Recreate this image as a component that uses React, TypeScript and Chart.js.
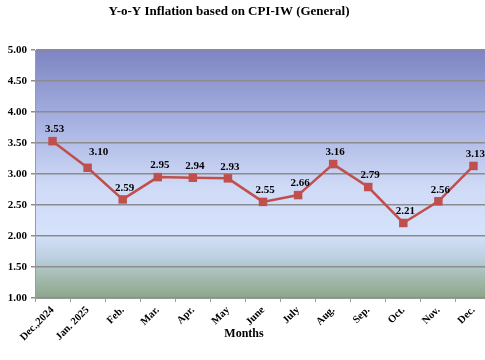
import React, { useEffect, useRef } from "react";
import { Chart, registerables } from "chart.js";

Chart.register(...registerables);

const months = ["Dec.,2024", "Jan. 2025", "Feb.", "Mar.", "Apr.", "May", "June", "July", "Aug.", "Sep.", "Oct.", "Nov.", "Dec."];
const inflation = [3.53, 3.10, 2.59, 2.95, 2.94, 2.93, 2.55, 2.66, 3.16, 2.79, 2.21, 2.56, 3.13];
const yMin = 1;
const yMax = 5;
const yStep = 0.5;
const titleText = "Y-o-Y Inflation based on CPI-IW (General)";
const xTitle = "Months";

const FONT = "'Liberation Serif', 'Times New Roman', serif";

const bgPlugin = {
  id: "bgPlugin",
  beforeDraw(chart: any) {
    const { ctx, chartArea } = chart;
    if (!chartArea) return;
    const { left, top, right, bottom } = chartArea;
    const g = ctx.createLinearGradient(0, top, 0, bottom);
    g.addColorStop(0, "#7e85c2");
    g.addColorStop(0.3, "#a9b3e2");
    g.addColorStop(0.55, "#cfdaf7");
    g.addColorStop(0.74, "#d5e2fb");
    g.addColorStop(0.84, "#bccfe0");
    g.addColorStop(0.9, "#a9bfb8");
    g.addColorStop(1, "#8ca68a");
    ctx.save();
    ctx.fillStyle = g;
    ctx.fillRect(left, top, right - left, bottom - top);
    ctx.restore();
  },
  afterDatasetsDraw(chart: any) {
    const { ctx } = chart;
    const meta = chart.getDatasetMeta(0);
    ctx.save();
    ctx.font = `bold 11px ${FONT}`;
    ctx.fillStyle = "#000";
    ctx.textAlign = "center";
    ctx.textBaseline = "bottom";
    meta.data.forEach((pt: any, i: number) => {
      // the Jan. 2025 label sits up and to the right of its marker in the original
      const nudgeX = i === 1 ? 11 : 2;
      const nudgeY = i === 1 ? 10 : 6;
      ctx.fillText(inflation[i].toFixed(2), pt.x + nudgeX, pt.y - nudgeY);
    });
    ctx.restore();
  },
  afterDraw(chart: any) {
    const { ctx } = chart;
    ctx.save();
    ctx.fillStyle = "#000";
    ctx.textAlign = "center";
    ctx.textBaseline = "middle";
    ctx.font = `bold 13px ${FONT}`;
    ctx.fillText(titleText, 229, 12);
    ctx.font = `bold 12px ${FONT}`;
    ctx.fillText(xTitle, 244, 334);
    ctx.restore();
  },
};

export default function App() {
  const ref = useRef<HTMLCanvasElement | null>(null);
  useEffect(() => {
    if (!ref.current) return;
    const chart = new Chart(ref.current, {
      type: "line",
      data: {
        labels: months,
        datasets: [
          {
            data: inflation,
            borderColor: "#c0504d",
            backgroundColor: "#c0504d",
            borderWidth: 2.5,
            pointStyle: "rect",
            pointRadius: 6,
            pointHoverRadius: 6,
            pointBorderWidth: 0,
            tension: 0,
          },
        ],
      },
      options: {
        animation: false,
        responsive: false,
        maintainAspectRatio: false,
        layout: { padding: { top: 50, left: 0, right: 0, bottom: 0 } },
        plugins: {
          legend: { display: false },
          title: { display: false },
          tooltip: { enabled: false },
        },
        scales: {
          x: {
            offset: true,
            grid: {
              offset: true,
              drawOnChartArea: false,
              drawTicks: true,
              tickLength: 4,
              color: "#9a9a9a",
            },
            border: { display: true, color: "#9a9a9a", width: 1 },
            ticks: {
              minRotation: 45,
              maxRotation: 45,
              autoSkip: false,
              color: "#000",
              font: { family: FONT, weight: "bold", size: 10.5 },
              padding: 2,
            },
            afterFit(scale: any) {
              scale.height = 62;
            },
          },
          y: {
            min: yMin,
            max: yMax,
            ticks: {
              stepSize: yStep,
              color: "#000",
              font: { family: FONT, weight: "bold", size: 11 },
              padding: 4,
              callback: (v: any) => Number(v).toFixed(2),
            },
            grid: {
              color: "#8c8c8c",
              lineWidth: 1.5,
              tickLength: 4,
            },
            border: { display: true, color: "#9a9a9a", width: 1 },
            afterFit(scale: any) {
              scale.width = 35;
            },
          },
        },
      },
      plugins: [bgPlugin],
    });
    return () => chart.destroy();
  }, []);
  return (
    <div style={{ position: "fixed", left: 0, top: 0, width: 497, height: 360, background: "#fff" }}>
      <canvas ref={ref} width={497} height={360} style={{ display: "block" }} />
    </div>
  );
}
